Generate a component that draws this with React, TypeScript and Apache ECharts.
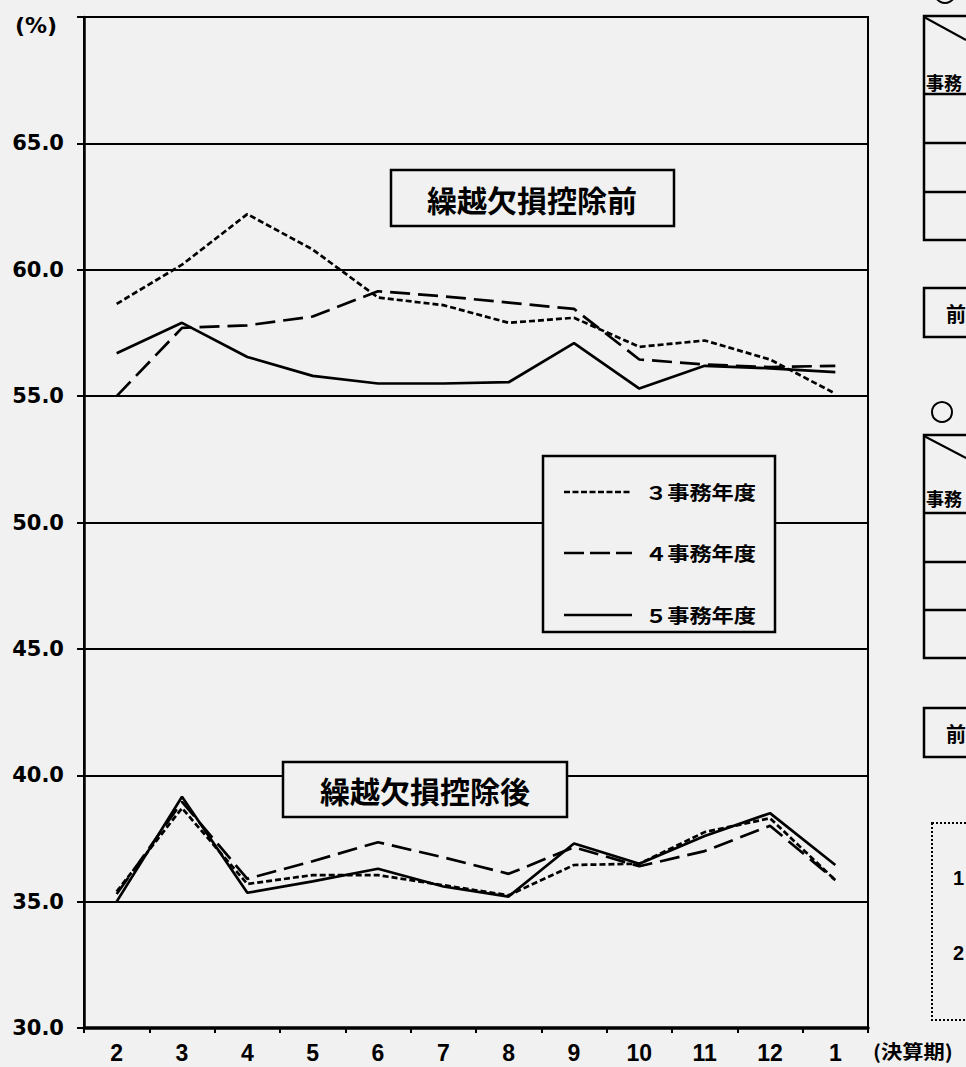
import React, { useEffect, useRef } from "react";
import * as echarts from "echarts";

const periods = ["2", "3", "4", "5", "6", "7", "8", "9", "10", "11", "12", "1"];
const yTicks = [30, 35, 40, 45, 50, 55, 60, 65, 70];

const seriesNames = ["３事務年度", "４事務年度", "５事務年度"];

// 繰越欠損控除前
const before3 = [58.65, 60.2, 62.2, 60.8, 58.9, 58.6, 57.9, 58.1, 56.95, 57.2, 56.45, 55.1];
const before4 = [55.0, 57.7, 57.8, 58.15, 59.15, 58.95, 58.7, 58.45, 56.45, 56.25, 56.15, 56.2];
const before5 = [56.7, 57.9, 56.55, 55.8, 55.5, 55.5, 55.55, 57.1, 55.3, 56.2, 56.1, 55.95];

// 繰越欠損控除後
const after3 = [35.4, 38.7, 35.7, 36.05, 36.05, 35.65, 35.25, 36.45, 36.5, 37.75, 38.3, 35.85];
const after4 = [35.3, 38.95, 35.9, 36.6, 37.35, 36.75, 36.1, 37.15, 36.4, 37.0, 38.0, 35.85];
const after5 = [35.0, 39.15, 35.35, 35.8, 36.3, 35.6, 35.2, 37.3, 36.5, 37.6, 38.5, 36.45];

const BG = "#f1f1f1";
const dashes: any[] = [[6, 3], [20, 8], "solid"];
const CJK = "Noto Sans CJK JP";
const LAT = "Liberation Sans";
const DJV = "DejaVu Sans";

function txt(text: string, x: number, y: number, size: number, family: string, align = "left", extra: any = {}) {
  return {
    type: "text",
    x,
    y,
    z: 5,
    ...extra,
    style: {
      text,
      x: 0,
      y: 0,
      fontSize: size,
      fontFamily: family,
      fontWeight: "bold",
      fill: "#000",
      align,
      textAlign: align,
      verticalAlign: "middle",
      textVerticalAlign: "middle",
    },
  };
}

function box(x: number, y: number, w: number, h: number, lw = 2.5, extra: any = {}) {
  return {
    type: "rect",
    z: 3,
    shape: { x, y, width: w, height: h },
    style: { fill: BG, stroke: "#000", lineWidth: lw, ...extra },
  };
}

function seg(x1: number, y1: number, x2: number, y2: number, lw = 2.5, dash?: any) {
  return {
    type: "line",
    z: 4,
    shape: { x1, y1, x2, y2 },
    style: { stroke: "#000", lineWidth: lw, lineDash: dash },
  };
}

export default function App() {
  const ref = useRef<HTMLDivElement>(null);

  useEffect(() => {
    if (!ref.current) return;
    const chart = echarts.init(ref.current, null, { renderer: "svg" });

    const groups = [
      [before3, before4, before5],
      [after3, after4, after5],
    ];
    const series: any[] = [];
    groups.forEach((g, gi) => {
      g.forEach((data, i) => {
        series.push({
          type: "line",
          name: seriesNames[i],
          id: `s${gi}${i}`,
          data,
          symbol: "none",
          showSymbol: false,
          z: 6,
          lineStyle: { color: "#000", width: 2.7, type: dashes[i] },
        });
      });
    });

    const legendItems: any[] = [];
    const legendYs = [492, 553, 615];
    seriesNames.forEach((n, i) => {
      const y = legendYs[i];
      legendItems.push(seg(564, y, 632, y, 2.7, dashes[i] === "solid" ? undefined : i === 0 ? [6, 2.5] : [20, 6]));
      legendItems.push(txt(n, 645, y, 19, CJK, "left", { scaleX: 1.17 }));
    });

    const graphic: any[] = [
      txt("(%)", 15, 25, 22, DJV),
      // title boxes
      box(391, 170, 283, 56),
      txt("繰越欠損控除前", 532, 199, 30, CJK, "center"),
      box(283, 762, 284, 55),
      txt("繰越欠損控除後", 425, 790, 30, CJK, "center"),
      // legend box
      box(543, 456, 232, 176),
      ...legendItems,
      txt("(決算期)", 873, 1051, 19, CJK, "left", { scaleX: 1.12 }),
      // right side fragments
      { type: "circle", z: 4, shape: { cx: 945, cy: -7, r: 10 }, style: { fill: "none", stroke: "#000", lineWidth: 2 } },
      box(924, 16, 80, 224),
      seg(924, 17, 966, 40, 2),
      seg(924, 94, 1000, 94),
      seg(924, 143, 1000, 143),
      seg(924, 192, 1000, 192),
      txt("事務", 926, 82, 18, CJK),
      box(924, 288, 80, 49),
      txt("前", 946, 313, 20, CJK),
      { type: "circle", z: 4, shape: { cx: 942, cy: 412, r: 10 }, style: { fill: "none", stroke: "#000", lineWidth: 2 } },
      box(924, 435, 80, 223),
      seg(924, 436, 966, 458, 2),
      seg(924, 513, 1000, 513),
      seg(924, 562, 1000, 562),
      seg(924, 610, 1000, 610),
      txt("事務", 926, 498, 18, CJK),
      box(924, 708, 80, 49),
      txt("前", 946, 733, 20, CJK),
      box(932, 823, 80, 197, 2, { lineDash: [2, 2] }),
      txt("1", 953, 878, 20, LAT),
      txt("2", 953, 953, 20, LAT),
    ];

    chart.setOption({
      animation: false,
      backgroundColor: BG,
      grid: {
        left: 84,
        right: 98,
        top: 17,
        bottom: 39,
        show: true,
        borderColor: "#000",
        borderWidth: 2,
        backgroundColor: "transparent",
      },
      legend: { show: false },
      xAxis: {
        type: "category",
        data: periods,
        boundaryGap: true,
        axisLine: { show: true, onZero: false, lineStyle: { color: "#000", width: 3.5 } },
        axisTick: { show: true, inside: false, length: 5, lineStyle: { color: "#000", width: 2 } },
        axisLabel: {
          color: "#000",
          fontFamily: LAT,
          fontWeight: "bold",
          fontSize: 23,
          margin: 13,
        },
        splitLine: { show: false },
      },
      yAxis: {
        type: "value",
        min: yTicks[0],
        max: yTicks[yTicks.length - 1],
        interval: 5,
        axisLine: { show: true, lineStyle: { color: "#000", width: 2.5 } },
        axisTick: { show: true, inside: false, length: 7, lineStyle: { color: "#000", width: 2 } },
        axisLabel: {
          color: "#000",
          fontFamily: DJV,
          fontWeight: "bold",
          fontSize: 21,
          margin: 20,
          formatter: (v: number) => (v === yTicks[yTicks.length - 1] ? "" : v.toFixed(1)),
        },
        splitLine: { show: true, lineStyle: { color: "#000", width: 2 } },
      },
      series,
      graphic: { elements: graphic },
    });

    return () => chart.dispose();
  }, []);

  return (
    <div
      ref={ref}
      style={{ position: "fixed", left: 0, top: 0, width: 966, height: 1067 }}
    />
  );
}
